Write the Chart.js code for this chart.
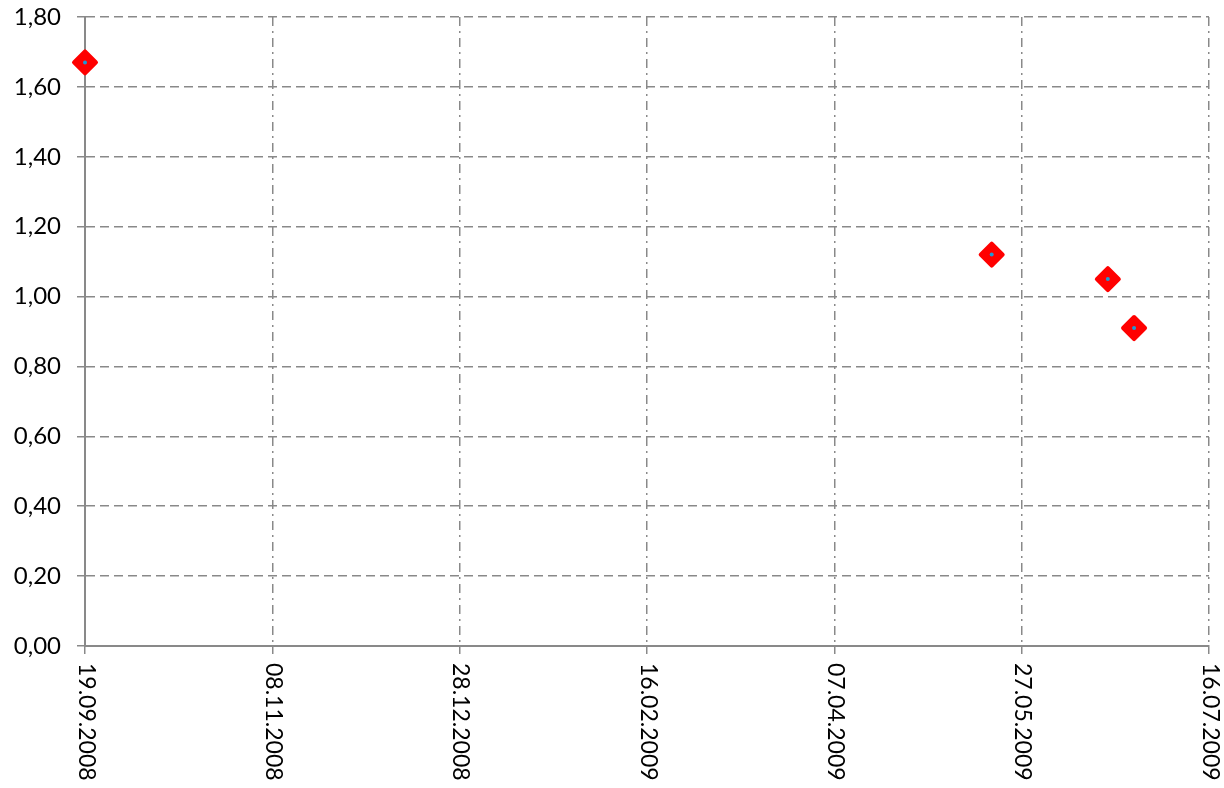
<!DOCTYPE html>
<html>
<head>
<meta charset="utf-8">
<script src="https://cdn.jsdelivr.net/npm/chart.js@4.4.0/dist/chart.umd.min.js"></script>
<style>
  html, body { margin: 0; padding: 0; background: #fff; overflow: hidden; }
  #wrap { width: 1224px; height: 788px; position: relative; }
</style>
</head>
<body>
<div id="wrap"><canvas id="grafica"></canvas></div>
<script>
// fechas de medicion y valores
const fechas = ['19.09.2008', '19.05.2009', '19.06.2009', '26.06.2009'];
const valores = [1.67, 1.12, 1.05, 0.91];

// eje x: desde / hasta, cada 50 dias
const fechaInicio = '19.09.2008';
const fechaFin = '16.07.2009';
const pasoDias = 50;

// eje y
const yMin = 0, yMax = 1.8, yPaso = 0.2;

const DIA = 86400000;
function aMs(s) {
  const p = s.split('.');
  return Date.UTC(+p[2], +p[1] - 1, +p[0]);
}
function aTexto(ms) {
  const d = new Date(ms);
  const dd = String(d.getUTCDate()).padStart(2, '0');
  const mm = String(d.getUTCMonth() + 1).padStart(2, '0');
  return dd + '.' + mm + '.' + d.getUTCFullYear();
}

const puntos = fechas.map((f, i) => ({ x: aMs(f), y: valores[i] }));
const fuente = 'Lato, "Open Sans", sans-serif';
const gris = '#898989';

// dibuja las fechas giradas hacia abajo
const etiquetasX = {
  id: 'etiquetasX',
  beforeDatasetsDraw(chart) {
    chart.ctx.lineJoin = 'round';
  },
  afterDraw(chart) {
    const esc = chart.scales.x;
    const ctx = chart.ctx;
    ctx.save();
    ctx.fillStyle = '#000';
    ctx.font = '23px ' + fuente;
    ctx.textAlign = 'left';
    ctx.textBaseline = 'middle';
    esc.ticks.forEach(t => {
      const x = esc.getPixelForValue(t.value);
      ctx.save();
      ctx.translate(x + 1, chart.chartArea.bottom + 17);
      ctx.rotate(Math.PI / 2);
      ctx.fillText(aTexto(t.value), 0, 0);
      ctx.restore();
    });
    ctx.restore();
  }
};

const ctx = document.getElementById('grafica').getContext('2d');
new Chart(ctx, {
  type: 'scatter',
  data: {
    datasets: [
      {
        data: puntos,
        clip: false,
        pointStyle: 'circle',
        pointRadius: 2,
        pointBackgroundColor: '#1e9ad6',
        pointBorderWidth: 0
      },
      {
        data: puntos,
        clip: false,
        pointStyle: 'rectRot',
        pointRadius: 11,
        pointBackgroundColor: '#ff0000',
        pointBorderColor: '#ff0000',
        pointBorderWidth: 4
      }
    ]
  },
  options: {
    responsive: true,
    maintainAspectRatio: false,
    animation: false,
    plugins: { legend: { display: false }, tooltip: { enabled: false } },
    layout: { padding: { top: 17, right: 10, left: 0, bottom: 0 } },
    scales: {
      x: {
        type: 'linear',
        min: aMs(fechaInicio),
        max: aMs(fechaFin),
        afterBuildTicks(scale) {
          const t = [];
          for (let v = aMs(fechaInicio); v <= aMs(fechaFin); v += pasoDias * DIA) t.push({ value: v });
          scale.ticks = t;
        },
        afterFit(scale) { scale.height = 142; scale.paddingLeft = 0; scale.paddingRight = 0; },
        ticks: { display: false },
        grid: { color: gris, lineWidth: 1.5, tickLength: 8, tickColor: gris, tickBorderDash: [] },
        border: { color: gris, width: 2, dash: [9, 5, 2, 5] }
      },
      y: {
        min: yMin,
        max: yMax,
        afterFit(scale) { scale.width = 85; scale.paddingTop = 0; scale.paddingBottom = 0; },
        ticks: {
          stepSize: yPaso,
          padding: 16,
          color: '#000',
          font: { family: fuente, size: 24 },
          callback: v => v.toFixed(2).replace('.', ',')
        },
        grid: { color: gris, lineWidth: 1.5, tickLength: 8, tickColor: gris, tickBorderDash: [] },
        border: { color: gris, width: 2, dash: [9, 5] }
      }
    }
  },
  plugins: [etiquetasX]
});
</script>
</body>
</html>
